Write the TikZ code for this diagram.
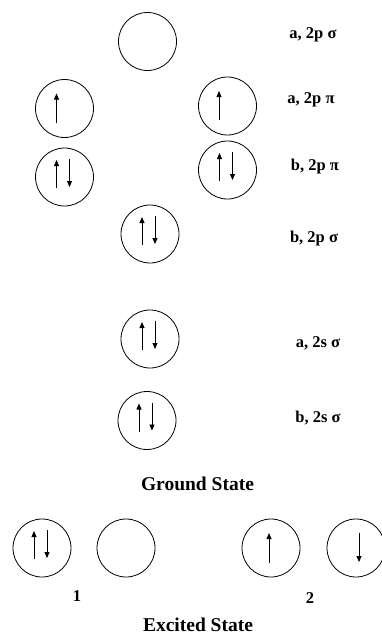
\documentclass[tikz,border=0pt]{standalone}
\usepackage{fontspec}
\setmainfont{Liberation Serif}
\usetikzlibrary{arrows.meta}
\begin{document}
\begin{tikzpicture}[x=1pt,y=-1pt,
  orb/.style={draw,circle,line width=0.8pt,minimum size=58pt,inner sep=0pt},
  spin/.style={line width=0.8pt,-{Triangle[width=5pt,length=6pt]}},
  lbl/.style={anchor=base,font=\fontsize{16.5}{19}\selectfont\bfseries,inner sep=0pt},
  ttl/.style={anchor=base,font=\fontsize{19.5}{22}\selectfont\bfseries,inner sep=0pt}]
\useasboundingbox (0,0) rectangle (382,634);
\begin{scope}
\clip (0,0) rectangle (382,634);
% ground state orbitals
\node[orb] (s2pa) at (147.5,41.5) {};
\node[orb] (pial) at (64.5,108.5) {};
\node[orb] (piar) at (227.5,106) {};
\node[orb] (pibl) at (64.5,177) {};
\node[orb] (pibr) at (227.5,170) {};
\node[orb] (s2pb) at (150,234) {};
\node[orb] (s2sa) at (150,339) {};
\node[orb] (s2sb) at (147,420.5) {};
% excited state orbitals
\node[orb] (e1a) at (42,548) {};
\node[orb] (e1b) at (126,548) {};
\node[orb] (e2a) at (271,548) {};
\node[orb] (e2b) at (356,548) {};
% single spins
\draw[spin] ([shift={(-8,14)}]pial.center) -- ([shift={(-8,-15)}]pial.center);
\draw[spin] ([shift={(-8.5,14)}]piar.center) -- ([shift={(-8.5,-15)}]piar.center);
\draw[spin] ([shift={(-2,15)}]e2a.center) -- ([shift={(-2,-15)}]e2a.center);
\draw[spin] ([shift={(3,-15)}]e2b.center) -- ([shift={(3,14)}]e2b.center);
% paired spins
\foreach \n in {pibl,pibr,s2pb,s2sa,s2sb,e1a}{
  \draw[spin] ([shift={(-8,11)}]\n.center) -- ([shift={(-8,-17)}]\n.center);
  \draw[spin] ([shift={(5,-18)}]\n.center) -- ([shift={(5,10)}]\n.center);
}
\end{scope}
% labels
\node[lbl] (l1) at (313,39) {a, 2p σ};
\node[lbl] (l2) at (311,103) {a, 2p π};
\node[lbl] (l3) at (315,170) {b, 2p π};
\node[lbl] (l4) at (314,242) {b, 2p σ};
\node[lbl] (l5) at (318,347) {a, 2s σ};
\node[lbl] (l6) at (318,422) {b, 2s σ};
\node[ttl] (gs) at (197.5,490) {Ground State};
\node[lbl] (n1) at (77,601) {1};
\node[lbl] (n2) at (310,603) {2};
\node[ttl] (es) at (198,631) {Excited State};
\end{tikzpicture}
\end{document}
